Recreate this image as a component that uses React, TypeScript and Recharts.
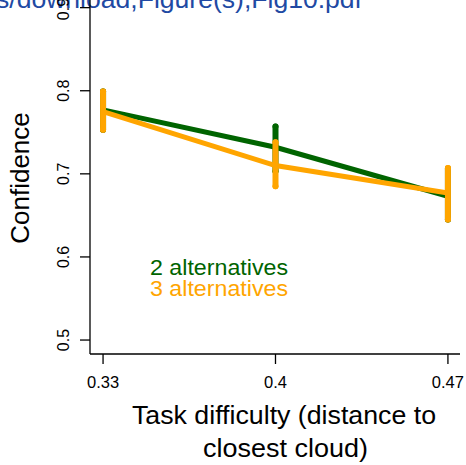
import React from "react";
import { ComposedChart, Line, XAxis, YAxis, ErrorBar } from "recharts";

const difficulty = [0.33, 0.4, 0.47];
const xTicks = [0.33, 0.4, 0.47];
const yTicks = [0.5, 0.6, 0.7, 0.8, 0.9];

// 2 alternatives
const conf2 = [0.777, 0.732, 0.673];
const conf2Low = [0.753, 0.703, 0.645];
const conf2High = [0.799, 0.757, 0.706];

// 3 alternatives
const conf3 = [0.775, 0.71, 0.677];
const conf3Low = [0.753, 0.685, 0.645];
const conf3High = [0.799, 0.738, 0.707];

const GREEN = "#006400";
const ORANGE = "#FFA500";
const FONT = "'Liberation Sans', Arial, sans-serif";

const data = difficulty.map((d, i) => ({
  x: d,
  c2: conf2[i],
  e2: [conf2[i] - conf2Low[i], conf2High[i] - conf2[i]],
  c3: conf3[i],
  e3: [conf3[i] - conf3Low[i], conf3High[i] - conf3[i]],
}));

function YTick(props: any) {
  const { x, y, payload } = props;
  const tx = x - 9;
  return (
    <text
      x={tx}
      y={y}
      transform={`rotate(-90, ${tx}, ${y})`}
      textAnchor="middle"
      fontSize={16}
      fontFamily={FONT}
      fill="#000"
    >
      {payload.value.toFixed(1)}
    </text>
  );
}

function XTick(props: any) {
  const { x, y, payload } = props;
  return (
    <text x={x} y={y + 22} textAnchor="middle" fontSize={16.5} fontFamily={FONT} fill="#000">
      {String(payload.value)}
    </text>
  );
}

export default function App() {
  return (
    <div style={{ position: "absolute", left: 0, top: 0, width: 466, height: 465, background: "#fff", overflow: "hidden" }}>
      <ComposedChart width={466} height={465} data={data} margin={{ top: 0, right: 6, bottom: 0, left: 0 }}>
        <XAxis
          dataKey="x"
          type="number"
          domain={[0.3247, 0.4749]}
          ticks={xTicks}
          tick={<XTick />}
          tickSize={10}
          height={111}
          stroke="#000"
          axisLine={{ stroke: "#000", strokeWidth: 1.3 }}
          tickLine={{ stroke: "#000", strokeWidth: 1.3 }}
          allowDataOverflow
        />
        <YAxis
          type="number"
          domain={[0.4832, 0.9092]}
          ticks={yTicks}
          tick={<YTick />}
          tickSize={10}
          width={90}
          stroke="#000"
          axisLine={{ stroke: "#000", strokeWidth: 1.3 }}
          tickLine={{ stroke: "#000", strokeWidth: 1.3 }}
          allowDataOverflow
        />
        <Line dataKey="c2" stroke={GREEN} strokeWidth={5} dot={false} isAnimationActive={false}>
          <ErrorBar dataKey="e2" width={0} stroke={GREEN} strokeWidth={6} strokeLinecap="round" direction="y" />
        </Line>
        <Line dataKey="c3" stroke={ORANGE} strokeWidth={5} dot={false} isAnimationActive={false}>
          <ErrorBar dataKey="e3" width={0} stroke={ORANGE} strokeWidth={6} strokeLinecap="round" direction="y" />
        </Line>
        <text x={20} y={178} transform="rotate(-90, 20, 178)" textAnchor="middle" dominantBaseline="central" fontSize={26} fontFamily={FONT} fill="#000">
          Confidence
        </text>
        <text x={132} y={424} fontSize={25} fontFamily={FONT} fill="#000" textLength={304} lengthAdjust="spacingAndGlyphs">
          Task difficulty (distance to
        </text>
        <text x={203} y={457} fontSize={25} fontFamily={FONT} fill="#000" textLength={165} lengthAdjust="spacingAndGlyphs">
          closest cloud)
        </text>
        <text x={150} y={275} fontSize={22.5} fontFamily={FONT} fill={GREEN} textLength={138} lengthAdjust="spacingAndGlyphs">
          2 alternatives
        </text>
        <text x={150} y={296} fontSize={22.5} fontFamily={FONT} fill={ORANGE} textLength={138} lengthAdjust="spacingAndGlyphs">
          3 alternatives
        </text>
        <text x={-4} y={8} fontSize={25} fontFamily={FONT} fill="#2149a3" textLength={366} lengthAdjust="spacingAndGlyphs">
          s/download,Figure(s),Fig10.pdf
        </text>
      </ComposedChart>
    </div>
  );
}
